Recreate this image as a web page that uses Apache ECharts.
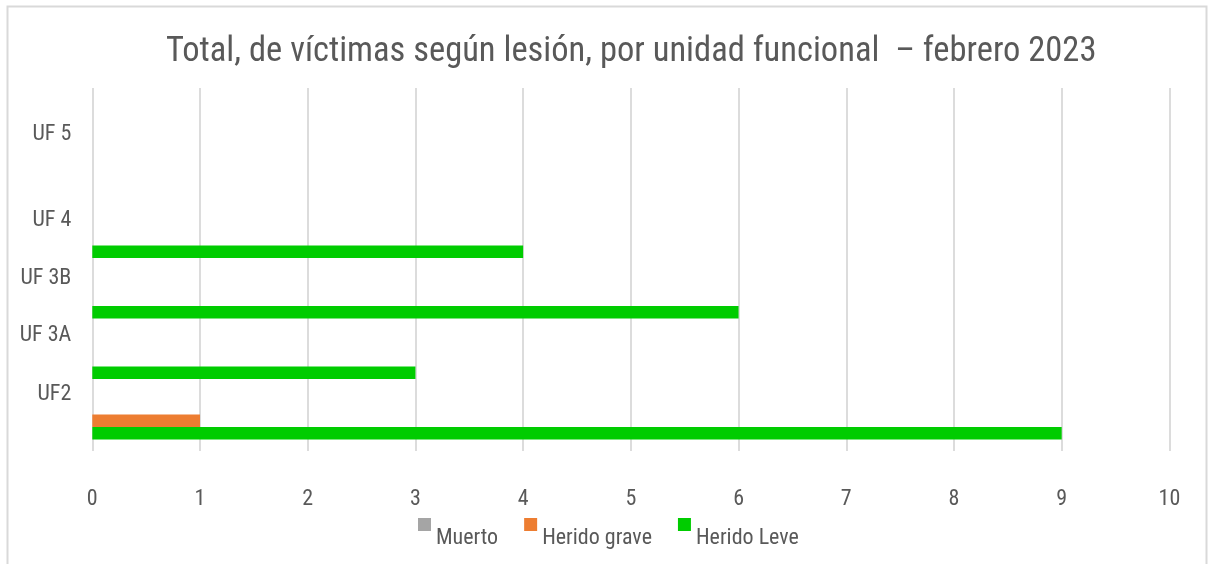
<!DOCTYPE html>
<html>
<head>
<meta charset="utf-8">
<script src="https://cdn.jsdelivr.net/npm/echarts@6/dist/echarts.min.js"></script>
<style>
html,body{margin:0;padding:0;background:#fff;}
#chart{width:1208px;height:564px;}
</style>
</head>
<body>
<div id="chart"></div>
<script>
// ---- data ----
const categories = ['', 'UF2', 'UF 3A', 'UF 3B', 'UF 4', 'UF 5'];
const seriesNames = ['Muerto', 'Herido grave', 'Herido Leve'];
const muerto = [0, 0, 0, 0, 0, 0];
const heridoGrave = [1, 0, 0, 0, 0, 0];
const heridoLeve = [9, 3, 6, 4, 0, 0];
const xTicks = [0, 1, 2, 3, 4, 5, 6, 7, 8, 9, 10];
const titleText = 'Total, de víctimas según lesión, por unidad funcional  – febrero 2023';

// ---- style ----
const FONT = '"Roboto Condensed", "Liberation Sans Narrow", Arial, sans-serif';
const TXT = '#595959';
const colors = ['#a5a5a5', '#ed7d31', '#00cc00'];
// vertical shift of each category label (px, downward), as in the reference
const labelShift = {'UF2': 34, 'UF 3A': 36, 'UF 3B': 39, 'UF 4': 42, 'UF 5': 16};
const rich = {};
const keyIndex = Object.keys(labelShift);
keyIndex.forEach((k, i) => {
  rich['s' + i] = {padding: [labelShift[k] * 2, 0, 0, 0], fontFamily: FONT, fontSize: 22, color: TXT};
});

const chart = echarts.init(document.getElementById('chart'), null, {renderer: 'canvas'});
const seriesData = [muerto, heridoGrave, heridoLeve];

chart.setOption({
  animation: false,
  backgroundColor: '#ffffff',
  color: colors,
  title: {
    text: titleText,
    left: 166,
    top: 35,
    padding: 0,
    textStyle: {fontFamily: FONT, fontSize: 34.5, fontWeight: 'normal', color: TXT}
  },
  legend: {
    data: seriesNames,
    left: 418,
    top: 518,
    padding: 0,
    itemWidth: 13,
    itemHeight: 13,
    itemGap: 26,
    icon: 'rect',
    formatter: n => '{t|' + n + '}',
    textStyle: {
      fontFamily: FONT, fontSize: 22, color: TXT,
      rich: {t: {fontFamily: FONT, fontSize: 22, color: TXT, padding: [28, 0, 0, 0]}}
    }
  },
  grid: {left: 92.3, right: 38.6, top: 88, bottom: 113, containLabel: false},
  xAxis: {
    type: 'value',
    min: xTicks[0],
    max: xTicks[xTicks.length - 1],
    interval: 1,
    axisLine: {show: false},
    axisTick: {show: false},
    splitLine: {show: true, lineStyle: {color: '#dcdcdc', width: 2}},
    axisLabel: {fontFamily: FONT, fontSize: 22, color: TXT, margin: 37}
  },
  yAxis: {
    type: 'category',
    data: categories,
    axisLine: {show: false},
    axisTick: {show: false},
    splitLine: {show: false},
    axisLabel: {
      margin: 21,
      fontFamily: FONT, fontSize: 22, color: TXT,
      formatter: v => {
        const i = keyIndex.indexOf(v);
        return i >= 0 ? '{s' + i + '|' + v + '}' : v;
      },
      rich: rich
    }
  },
  graphic: [{
    type: 'rect',
    shape: {x: 7.5, y: 6.5, width: 1199, height: 570},
    style: {fill: null, stroke: '#d9d9d9', lineWidth: 2},
    silent: true,
    z: -1
  }],
  series: seriesNames.map((name, i) => ({
    name: name,
    type: 'bar',
    data: seriesData[i],
    barWidth: 12.5,
    barGap: '0%',
    itemStyle: {color: colors[i]}
  }))
});
</script>
</body>
</html>
